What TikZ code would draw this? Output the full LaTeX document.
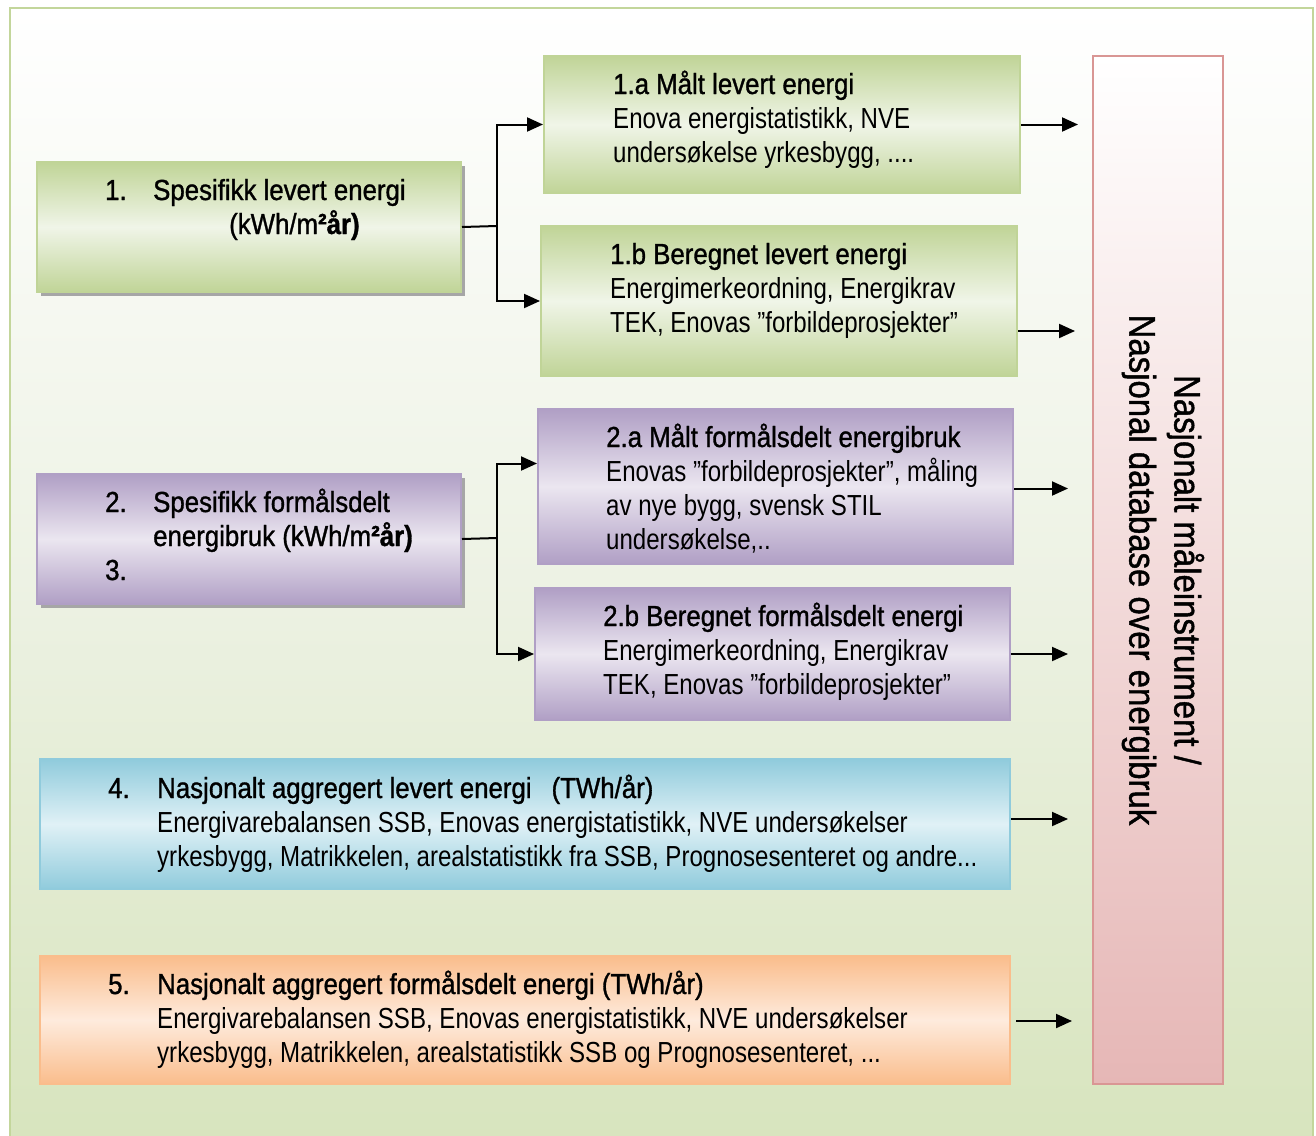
\documentclass[tikz,border=0pt]{standalone}
\usepackage{fontspec}
\setmainfont[FakeStretch=0.83]{Liberation Sans}
\newfontfamily\headfont[FakeStretch=0.89,FakeBold=1.1]{Liberation Sans}
\usetikzlibrary{arrows.meta,shadows}

\definecolor{frameC}{HTML}{C3D69B}
\definecolor{bgBot}{HTML}{D7E4BD}
\definecolor{bgMid}{HTML}{EDF2E4}
\definecolor{grnD}{HTML}{C0D497}
\definecolor{grnL}{HTML}{F0F5E8}
\definecolor{purD}{HTML}{B09FC5}
\definecolor{purL}{HTML}{EBE6F0}
\definecolor{bluD}{HTML}{90CBDC}
\definecolor{bluL}{HTML}{E0F1F6}
\definecolor{orgD}{HTML}{FABD8C}
\definecolor{orgL}{HTML}{FEEBDD}
\definecolor{pnkD}{HTML}{D99694}
\definecolor{pnkB}{HTML}{E6B7B6}
\definecolor{shadowC}{HTML}{A6A6A6}

\begin{document}
\begin{tikzpicture}[x=1pt,y=-1pt,
  box/.style={rectangle, inner sep=0pt, anchor=north west, line width=2pt, shading angle=-45},
  gbox/.style={box, draw=grnD, top color=grnD, bottom color=grnD, middle color=grnL},
  pbox/.style={box, draw=purD, top color=purD, bottom color=purD, middle color=purL},
  bbox/.style={box, draw=bluD, top color=bluD, bottom color=bluD, middle color=bluL},
  obox/.style={box, draw=orgD, top color=orgD, bottom color=orgD, middle color=orgL},
  shd/.style={general shadow={fill=shadowC, shadow xshift=4pt, shadow yshift=-4pt}},
  txt/.style={inner sep=0pt, anchor=base west, font=\fontsize{29}{34}\selectfont},
  hd/.style={inner sep=0pt, anchor=base west, font=\fontsize{29}{34}\headfont},
  link/.style={line width=2pt},
  arr/.style={line width=2pt, -{Triangle[length=16pt,width=14pt]}}
]
\useasboundingbox (0,0) rectangle (1316,1135);

% framed background
\draw[line width=2.5pt, draw=frameC, top color=white, bottom color=bgBot, middle color=bgMid]
  (10,8) rectangle (1313,1150);

% boxes
\node[gbox, shd, minimum width=424pt, minimum height=130pt] (b1) at (36,161) {};
\node[gbox, minimum width=476pt, minimum height=137pt] (b1a) at (543,55) {};
\node[gbox, minimum width=476pt, minimum height=150pt] (b1b) at (540,225) {};
\node[pbox, shd, minimum width=424pt, minimum height=130pt] (b2) at (36,473) {};
\node[pbox, minimum width=475pt, minimum height=155pt] (b2a) at (537,408) {};
\node[pbox, minimum width=475pt, minimum height=132pt] (b2b) at (534,587) {};
\node[bbox, minimum width=970pt, minimum height=130pt] (b4) at (39,758) {};
\node[obox, minimum width=970pt, minimum height=128pt] (b5) at (39,955) {};
\node[box, draw=pnkD, top color=white, bottom color=pnkB, shading angle=0,
      minimum width=130pt, minimum height=1028pt] (vb) at (1092,55) {};

% box 1
\node[hd] (n1) at (105,200) {1.};
\node[hd] (t1l1) at (153,200) {Spesifikk levert energi};
\node[hd] (t1l2) at (229,234) {(kWh/m\textbf{²år)}};

% box 1.a
\node[hd]  (t1a1) at (613,94) {1.a Målt levert energi};
\node[txt] (t1a2) at (613,128) {Enova energistatistikk, NVE};
\node[txt] (t1a3) at (613,162) {undersøkelse yrkesbygg, ....};

% box 1.b
\node[hd]  (t1b1) at (610,264) {1.b Beregnet levert energi};
\node[txt] (t1b2) at (610,298) {Energimerkeordning, Energikrav};
\node[txt] (t1b3) at (610,332) {TEK, Enovas ”forbildeprosjekter”};

% box 2
\node[hd] (n2) at (105,512) {2.};
\node[hd] (t2l1) at (153,512) {Spesifikk formålsdelt};
\node[hd] (t2l2) at (153,546) {energibruk (kWh/m\textbf{²år)}};
\node[hd] (n3) at (105,580) {3.};

% box 2.a
\node[hd]  (t2a1) at (606,447) {2.a Målt formålsdelt energibruk};
\node[txt] (t2a2) at (606,481) {Enovas ”forbildeprosjekter”, måling};
\node[txt] (t2a3) at (606,515) {av nye bygg, svensk STIL};
\node[txt] (t2a4) at (606,549) {undersøkelse,..};

% box 2.b
\node[hd]  (t2b1) at (603,626) {2.b Beregnet formålsdelt energi};
\node[txt] (t2b2) at (603,660) {Energimerkeordning, Energikrav};
\node[txt] (t2b3) at (603,694) {TEK, Enovas ”forbildeprosjekter”};

% box 4
\node[hd]  (n4) at (108,798) {4.};
\node[hd]  (t4l1) at (157,798) {Nasjonalt aggregert levert energi\hspace{20pt}(TWh/år)};
\node[txt] (t4l2) at (157,832) {Energivarebalansen SSB, Enovas energistatistikk, NVE undersøkelser};
\node[txt] (t4l3) at (157,866) {yrkesbygg, Matrikkelen, arealstatistikk fra SSB, Prognosesenteret og andre...};

% box 5
\node[hd]  (n5) at (108,994) {5.};
\node[hd]  (t5l1) at (157,994) {Nasjonalt aggregert formålsdelt energi (TWh/år)};
\node[txt] (t5l2) at (157,1028) {Energivarebalansen SSB, Enovas energistatistikk, NVE undersøkelser};
\node[txt] (t5l3) at (157,1062) {yrkesbygg, Matrikkelen, arealstatistikk SSB og Prognosesenteret, ...};

% vertical label
\node[rotate=-90, align=center, inner sep=0pt, font=\fontsize{37}{45}\headfont] (vlab) at (1163,570)
  {Nasjonalt måleinstrument /\\Nasjonal database over energibruk};

% branching connectors
\coordinate (j1) at (497,226);
\coordinate (j2) at (497,538);
\draw[link] (b1.east) -- (j1);
\draw[arr] (j1) |- (b1a.west);
\draw[arr] (j1) |- (b1b.west);
\draw[link] (b2.east) -- (j2);
\draw[arr] (j2) |- ([yshift=23pt]b2a.west);
\draw[arr] (j2) |- (b2b.west);

% arrows toward the national database
\draw[arr, shorten >=14pt] (b1a.east) -- (b1a.east -| vb.west);
\draw[arr, shorten >=17pt] ([yshift=-30pt]b1b.east) -- ([yshift=-30pt]b1b.east -| vb.west);
\draw[arr, shorten >=24pt] ([yshift=-2pt]b2a.east) -- ([yshift=-2pt]b2a.east -| vb.west);
\draw[arr, shorten >=24pt] (b2b.east) -- (b2b.east -| vb.west);
\draw[arr, shorten >=24pt] ([yshift=5pt]b4.east) -- ([yshift=5pt]b4.east -| vb.west);
\draw[arr, shorten >=20pt] ([xshift=5pt,yshift=-1pt]b5.east) -- ([yshift=-1pt]b5.east -| vb.west);
\end{tikzpicture}
\end{document}
